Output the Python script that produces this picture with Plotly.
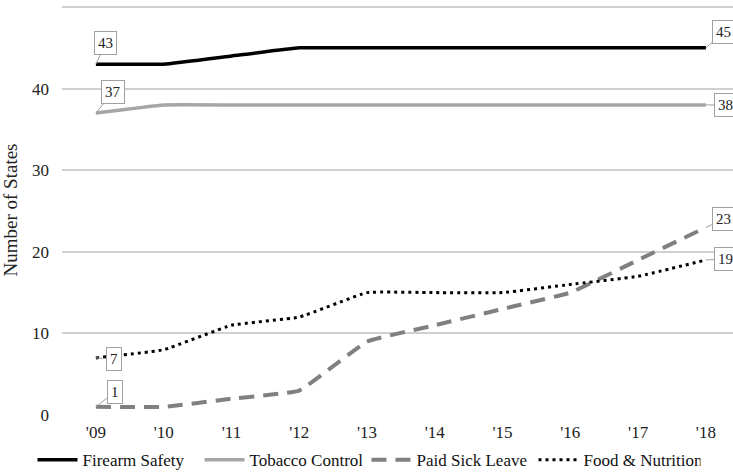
import plotly.graph_objects as go

years = ["'09", "'10", "'11", "'12", "'13", "'14", "'15", "'16", "'17", "'18"]
firearm = [43, 43, 44, 45, 45, 45, 45, 45, 45, 45]
tobacco = [37, 38, 38, 38, 38, 38, 38, 38, 38, 38]
sick_leave = [1, 1, 2, 3, 9, 11, 13, 15, 19, 23]
food = [7, 8, 11, 12, 15, 15, 15, 16, 17, 19]

xs = list(range(len(years)))
FONT = "Liberation Serif"

fig = go.Figure()
series = [
    ("Firearm Safety", firearm, dict(color="#000000", width=3.5)),
    ("Tobacco Control", tobacco, dict(color="#a6a6a6", width=3.5)),
    ("Paid Sick Leave", sick_leave, dict(color="#808080", width=4, dash="15px,9px")),
    ("Food & Nutrition", food, dict(color="#000000", width=3, dash="3px,4px")),
]
for name, vals, line in series:
    fig.add_trace(go.Scatter(x=xs, y=vals, name=name, mode="lines",
                             line=dict(shape="spline", smoothing=0.3, **line)))

# callout labels: (series values, index, ax, ay)
callouts = [
    (firearm, 0, 10, -21), (firearm, 9, 18, -16),
    (tobacco, 0, 17, -21), (tobacco, 9, 20, 0),
    (sick_leave, 0, 19, -15), (sick_leave, 9, 18, -8),
    (food, 0, 18, 1), (food, 9, 20, -1),
]
for vals, i, ax, ay in callouts:
    fig.add_annotation(x=xs[i], y=vals[i], text=str(vals[i]), showarrow=True,
                       arrowhead=0, arrowwidth=1, arrowcolor="#a0a0a0",
                       ax=ax, ay=ay, bordercolor="#a0a0a0", borderwidth=1,
                       borderpad=3, bgcolor="white",
                       font=dict(family=FONT, size=15, color="#222"))

fig.update_layout(
    width=733, height=472,
    margin=dict(l=62, r=0, t=5, b=57, autoexpand=False),
    plot_bgcolor="white", paper_bgcolor="white",
    font=dict(family=FONT, size=17, color="#222"),
    showlegend=True,
    legend=dict(orientation="h", xref="container", x=0.5, xanchor="center",
                yref="container", y=0.025, yanchor="middle",
                font=dict(family=FONT, size=17, color="#111"), itemwidth=40,
                entrywidth=112, entrywidthmode="pixels", tracegroupgap=0),
    xaxis=dict(range=[-0.5, 9.4], tickvals=xs, ticktext=years, showgrid=False,
               zeroline=False, showline=False, ticks="", ticklabelstandoff=5,
               tickfont=dict(family=FONT, size=17)),
    yaxis=dict(range=[0, 50.25], tickvals=[0, 10, 20, 30, 40, 50], showgrid=True,
               gridcolor="#d0d0d0", gridwidth=1.5, zeroline=False, showline=False,
               ticklabelstandoff=12,
               title=dict(text="Number of States", font=dict(family=FONT, size=19),
                          standoff=10),
               tickfont=dict(family=FONT, size=17)),
)

fig.write_html("out.html")
